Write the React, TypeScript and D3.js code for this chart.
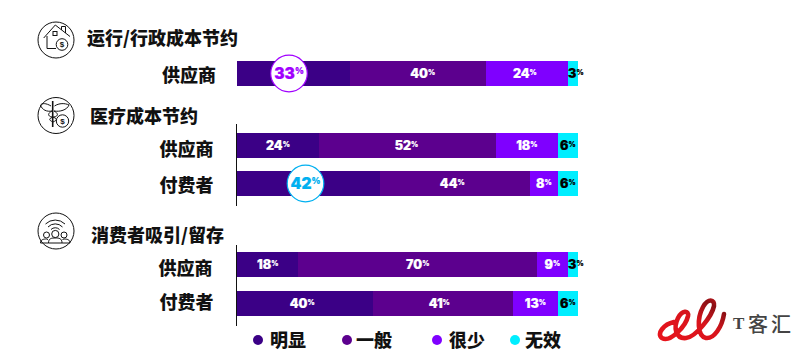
import React from "react";
import * as d3 from "d3";

const W = 800, H = 352;
const rowKeys = ["a", "b", "c", "d", "e"];
const rowLabels = ["供应商", "供应商", "付费者", "供应商", "付费者"];
const seriesNames = ["明显", "一般", "很少", "无效"];
const mingxian = [33, 24, 42, 18, 40];
const yiban = [40, 52, 44, 70, 41];
const henshao = [24, 18, 8, 9, 13];
const wuxiao = [3, 6, 6, 3, 6];
const titles = ["运行/行政成本节约", "医疗成本节约", "消费者吸引/留存"];

const rowTops = [61, 133, 171, 252, 291];
const colors = ["#3b0086", "#5c008e", "#7f00ff", "#00eeff"];
const labelColors = ["#fff", "#fff", "#fff", "#000"];
const legendDots = [258, 347, 437, 515];
const legendTexts = [270, 356, 449, 525];
const rowLabelX = [162, 159.5, 159.5, 158.5, 159.5];
const rowLabelY = [74, 148, 184, 267, 301];
const titleX = [87, 90, 91];
const titleY = [37, 115, 234];
const labelNudge = [
  [0, 5, -2, 3],
  [0, -1, 0, 0],
  [0, -3, 0, 0],
  [0, 0, 0, 3],
  [-3, -4, 0, 0],
];
const highlight: Record<string, { color: string; cx: number }> = {
  a: { color: "#a100ff", cx: 289 },
  c: { color: "#00b0f0", cx: 305.5 },
};

const table = rowKeys.map((k, i) => ({
  key: k,
  明显: mingxian[i],
  一般: yiban[i],
  很少: henshao[i],
  无效: wuxiao[i],
}));
const stacked = d3.stack<any>().keys(seriesNames)(table);
const x = d3.scaleLinear().domain([0, 100]).range([237, 578]);
const y = d3.scaleOrdinal<string, number>().domain(rowKeys).range(rowTops);
const BAR_H = 25;
const CJK = "'Noto Sans CJK SC', sans-serif";
const NUM = "Inter, 'Open Sans', sans-serif";

const Pct = ({ x: px, y: py, v, fill, size = 12.5 }: any) => (
  <text x={px} y={py} fill={fill} fontFamily={NUM} fontWeight={900} fontSize={size} textAnchor="middle" dominantBaseline="central" stroke={fill} strokeWidth={0.2}>
    {v}
    <tspan fontSize={size * 0.55} dy={-size * 0.16}>%</tspan>
  </text>
);

const Ring = ({ cy, children }: any) => (
  <g fill="none" stroke="#111" strokeWidth={1}>
    <circle cx={56} cy={cy} r={18} />
    {children}
  </g>
);

const Coin = ({ cx, cy, r }: any) => (
  <g>
    <circle cx={cx} cy={cy} r={r} fill="#fff" />
    <text x={cx} y={cy} fontFamily="'Liberation Sans', sans-serif" fontSize={8} fontWeight={700} fill="#111" stroke="none" textAnchor="middle" dominantBaseline="central">$</text>
  </g>
);

const HouseIcon = () => (
  <Ring cy={40}>
    <path d="M43.7 38 L55.3 25 L70 36.5" />
    <path d="M47 36 V48.5 H56" />
    <rect x={53} y={31.5} width={4} height={4} />
    <path d="M61.5 30 V26.5 H65.5 V33" />
    <Coin cx={62} cy={44.5} r={5.8} />
  </Ring>
);

const CaduceusIcon = () => (
  <Ring cy={115.5}>
    <path d="M52.7 101 V127" strokeWidth={1.6} />
    <path d="M51 106 C46 103 42 103 40.5 105 C42 110 47 112 52 111 C48 113 47 116 52 117 C57 118 58 120 53 122" />
    <path d="M54.5 106 C59 103 65 103 69 105 C67 110 60 112 54 111 C58 113 59 116 54 117 C49 118 48 120 53 122" />
    <Coin cx={62.5} cy={121} r={6.2} />
  </Ring>
);

const PeopleIcon = () => (
  <Ring cy={231}>
    <path d="M45.5 224 A14 14 0 0 1 65 224" />
    <path d="M48 227 A10 10 0 0 1 62.5 227" />
    <path d="M51 229.5 A6 6 0 0 1 59.5 229.5" />
    <circle cx={55.3} cy={234} r={3.6} />
    <path d="M48.5 243 C48.5 238 52 238 55.3 238 C58.6 238 62 238 62 243 Z" />
    <circle cx={46.5} cy={235} r={3} />
    <path d="M40.5 243 C40.5 239.5 43.5 239 46.5 239 L48 239.5" />
    <circle cx={64} cy={235} r={3} />
    <path d="M70 243 C70 239.5 67 239 64 239 L62.5 239.5" />
    <path d="M40.5 243 H48.5 M62 243 H70" />
  </Ring>
);

const Logo = () => (
  <g>
    <defs>
      <linearGradient id="lg" x1="0" x2="1" y1="1" y2="0">
        <stop offset="0" stopColor="#e8141c" />
        <stop offset="0.55" stopColor="#d8141c" />
        <stop offset="0.85" stopColor="#8a1015" />
        <stop offset="1" stopColor="#c9161c" />
      </linearGradient>
    </defs>
    <path
      d="M674 322 C664 324 656 334 662 338 C670 343 686 326 688 316 C689 310 682 310 678 318 C673 328 676 339 686 338 C696 337 712 316 714 306 C715 299 708 298 703 307 C697 318 697 336 706 338 C714 339 722 327 724 314"
      fill="none" stroke="url(#lg)" strokeWidth={4.6} strokeLinecap="round" strokeLinejoin="round"
    />
    <text x={733} y={323} fontFamily="'Liberation Serif', serif" fontWeight={700} fontSize={17} fill="#444" dominantBaseline="central">T</text>
    <text x={748} y={323} fontFamily={CJK} fontWeight={500} fontSize={20} fill="#444" dominantBaseline="central">客</text>
    <text x={771} y={323} fontFamily={CJK} fontWeight={500} fontSize={20} fill="#444" dominantBaseline="central">汇</text>
  </g>
);

export default function App() {
  return (
    <svg width={W} height={H} viewBox={`0 0 ${W} ${H}`} style={{ position: "absolute", left: 0, top: 0, display: "block", background: "#fff" }}>
      <line x1={236.5} x2={236.5} y1={124} y2={206} stroke="#111" />
      <line x1={236.5} x2={236.5} y1={245} y2={326} stroke="#111" />

      {stacked.map((s, si) =>
        s.map((d, ri) => (
          <rect key={`${si}-${ri}`} x={x(d[0])} y={y(rowKeys[ri])} width={x(d[1]) - x(d[0])} height={BAR_H} fill={colors[si]} shapeRendering="crispEdges" />
        ))
      )}

      {stacked.map((s, si) =>
        s.map((d, ri) => {
          const k = rowKeys[ri];
          if (si === 0 && highlight[k]) return null;
          return (
            <Pct key={`${si}-${ri}`} x={(x(d[0]) + x(d[1])) / 2 + labelNudge[ri][si]} y={y(k) + BAR_H / 2} v={d[1] - d[0]} fill={labelColors[si]} />
          );
        })
      )}

      {rowKeys.map((k, ri) => {
        const h = highlight[k];
        if (!h) return null;
        return (
          <g key={k}>
            <circle cx={h.cx} cy={y(k) + BAR_H / 2} r={18.3} fill="#fff" stroke={h.color} strokeWidth={1.2} />
            <Pct x={h.cx} y={y(k) + BAR_H / 2} v={mingxian[ri]} fill={h.color} size={15.5} />
          </g>
        );
      })}

      {rowLabels.map((t, i) => (
        <text key={i} x={rowLabelX[i]} y={rowLabelY[i]} fontFamily={CJK} fontWeight={900} fontSize={18} fill="#111" dominantBaseline="central">{t}</text>
      ))}
      {titles.map((t, i) => (
        <text key={i} x={titleX[i]} y={titleY[i]} fontFamily={CJK} fontWeight={900} fontSize={18} fill="#111" dominantBaseline="central">{t}</text>
      ))}

      {seriesNames.map((n, i) => (
        <g key={n}>
          <circle cx={legendDots[i]} cy={340} r={5} fill={colors[i]} />
          <text x={legendTexts[i]} y={339} fontFamily={CJK} fontWeight={900} fontSize={18} fill="#111" dominantBaseline="central">{n}</text>
        </g>
      ))}

      <HouseIcon />
      <CaduceusIcon />
      <PeopleIcon />
      <Logo />
    </svg>
  );
}
